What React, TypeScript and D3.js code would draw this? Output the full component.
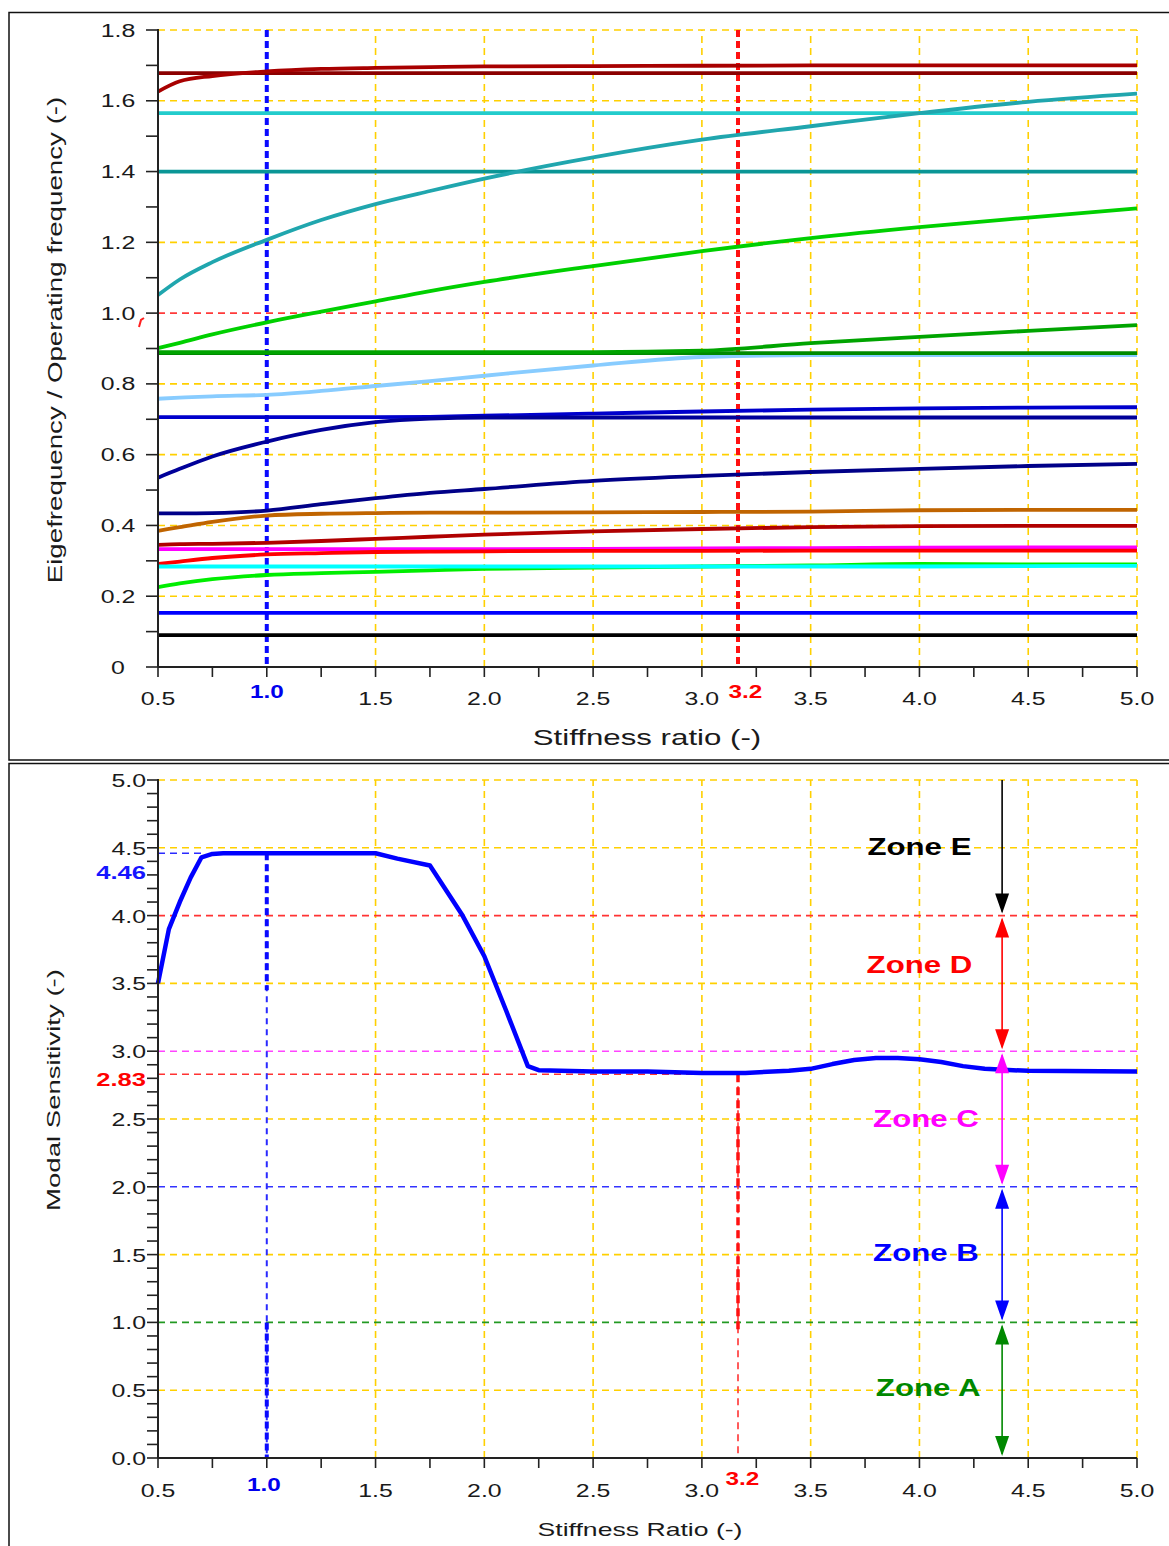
import React from 'react';
import * as d3 from 'd3';

// ---------------- Top chart data ----------------
const stiffness = [0.5, 0.6, 0.75, 1.0, 1.25, 1.5, 1.75, 2.0, 2.5, 3.0, 3.5, 4.0, 4.5, 5.0];

const darkRedRising = [1.626, 1.655, 1.670, 1.683, 1.690, 1.693, 1.695, 1.697, 1.698, 1.699, 1.700, 1.700, 1.700, 1.700];
const darkRedFlat = [1.678, 1.678, 1.678, 1.678, 1.678, 1.678, 1.678, 1.678, 1.678, 1.678, 1.678, 1.678, 1.678, 1.678];
const cyanTop = [1.565, 1.565, 1.565, 1.565, 1.565, 1.565, 1.565, 1.565, 1.565, 1.565, 1.565, 1.565, 1.565, 1.565];
const tealRising = [1.051, 1.095, 1.144, 1.207, 1.263, 1.308, 1.345, 1.380, 1.440, 1.490, 1.528, 1.565, 1.597, 1.620];
const tealFlat = [1.400, 1.400, 1.400, 1.400, 1.400, 1.400, 1.400, 1.400, 1.400, 1.400, 1.400, 1.400, 1.400, 1.400];
const greenBright = [0.901, 0.916, 0.940, 0.974, 1.004, 1.033, 1.062, 1.088, 1.133, 1.175, 1.212, 1.243, 1.270, 1.296];
const greenMid = [0.890, 0.890, 0.890, 0.890, 0.890, 0.890, 0.890, 0.890, 0.890, 0.894, 0.915, 0.933, 0.950, 0.966];
const greenDark = [0.887, 0.887, 0.887, 0.887, 0.887, 0.887, 0.887, 0.887, 0.887, 0.887, 0.887, 0.887, 0.887, 0.887];
const lightBlue = [0.758, 0.761, 0.765, 0.769, 0.780, 0.794, 0.808, 0.823, 0.852, 0.876, 0.881, 0.881, 0.881, 0.881];
const blueUpper = [0.706, 0.706, 0.706, 0.706, 0.706, 0.706, 0.707, 0.710, 0.716, 0.722, 0.727, 0.731, 0.733, 0.734];
const navyRising = [0.535, 0.560, 0.595, 0.637, 0.670, 0.692, 0.702, 0.705, 0.705, 0.705, 0.705, 0.705, 0.705, 0.705];
const navyLower = [0.434, 0.434, 0.435, 0.442, 0.460, 0.477, 0.492, 0.503, 0.526, 0.540, 0.551, 0.560, 0.568, 0.574];
const orange = [0.385, 0.395, 0.410, 0.428, 0.433, 0.435, 0.436, 0.436, 0.437, 0.438, 0.439, 0.443, 0.444, 0.444];
const darkRedLow = [0.345, 0.347, 0.348, 0.351, 0.356, 0.362, 0.368, 0.374, 0.383, 0.390, 0.395, 0.398, 0.399, 0.399];
const magenta = [0.333, 0.333, 0.333, 0.333, 0.333, 0.333, 0.333, 0.333, 0.334, 0.335, 0.336, 0.337, 0.338, 0.338];
const red = [0.291, 0.298, 0.308, 0.318, 0.322, 0.325, 0.326, 0.327, 0.328, 0.328, 0.329, 0.329, 0.329, 0.329];
const greenLow = [0.226, 0.236, 0.248, 0.260, 0.265, 0.269, 0.273, 0.277, 0.281, 0.284, 0.287, 0.291, 0.290, 0.290];
const cyanLow = [0.284, 0.284, 0.284, 0.284, 0.284, 0.284, 0.284, 0.284, 0.284, 0.284, 0.284, 0.284, 0.285, 0.286];
const blueLow = [0.153, 0.153, 0.153, 0.153, 0.153, 0.153, 0.153, 0.153, 0.153, 0.153, 0.153, 0.153, 0.153, 0.153];
const blackLow = [0.090, 0.090, 0.090, 0.090, 0.090, 0.090, 0.090, 0.090, 0.090, 0.090, 0.090, 0.090, 0.090, 0.090];

const topSeries = [
  { values: tealFlat, color: '#0a9696' },
  { values: cyanTop, color: '#22cccc' },
  { values: tealRising, color: '#20a6ae' },
  { values: darkRedFlat, color: '#8b0000' },
  { values: darkRedRising, color: '#a80000' },
  { values: lightBlue, color: '#88ccff' },
  { values: greenDark, color: '#008a00' },
  { values: greenMid, color: '#00a400' },
  { values: greenBright, color: '#00d000' },
  { values: blueUpper, color: '#0000cc' },
  { values: navyRising, color: '#000099' },
  { values: navyLower, color: '#000088' },
  { values: orange, color: '#c06400' },
  { values: darkRedLow, color: '#b00000' },
  { values: magenta, color: '#ff00ff' },
  { values: red, color: '#ff0000' },
  { values: greenLow, color: '#00ee00' },
  { values: cyanLow, color: '#00ffff' },
  { values: blueLow, color: '#0000ff' },
  { values: blackLow, color: '#000000' },
];

// ---------------- Bottom chart data ----------------
const sensX = [0.5, 0.55, 0.6, 0.65, 0.7, 0.75, 0.8, 1.0, 1.25, 1.5, 1.6, 1.75, 1.9, 2.0, 2.1, 2.2, 2.25, 2.5, 2.75, 3.0, 3.2, 3.4, 3.5, 3.6, 3.7, 3.8, 3.9, 4.0, 4.1, 4.2, 4.3, 4.5, 5.0];
const sensY = [3.5, 3.9, 4.1, 4.28, 4.43, 4.455, 4.46, 4.46, 4.46, 4.46, 4.42, 4.37, 4.0, 3.7, 3.3, 2.89, 2.86, 2.85, 2.85, 2.84, 2.84, 2.855, 2.87, 2.905, 2.935, 2.95, 2.95, 2.94, 2.92, 2.89, 2.87, 2.855, 2.85];

const zoneNames = ['Zone A', 'Zone B', 'Zone C', 'Zone D', 'Zone E'];
const zoneColors = ['#008800', '#0000ff', '#ff00ff', '#ff0000', '#000000'];
const zoneLow = [0, 1, 2, 3, 4];
const zoneHigh = [1, 2, 3, 4, 5];
const zoneLabelX = [4.04, 4.03, 4.03, 4.0, 4.0];
const zoneLabelY = [0.52, 1.52, 2.51, 3.64, 4.51];
const zoneArrowX = 4.38;

const xTickLabels = ['0.5', '1.5', '2.0', '2.5', '3.0', '3.5', '4.0', '4.5', '5.0'];
const topYTickLabels = ['0', '0.2', '0.4', '0.6', '0.8', '1.0', '1.2', '1.4', '1.6', '1.8'];
const botYTickLabels = ['0.0', '0.5', '1.0', '1.5', '2.0', '2.5', '3.0', '3.5', '4.0', '4.5', '5.0'];

const refRatio = 1.0;
const designRatio = 3.166;
const peakSens = 4.46;
const designSens = 2.83;

const FONT = "'Liberation Sans', Arial, Helvetica, sans-serif";
const YELLOW = '#ffd000';

function T({ x, y, children, size = 18, sx = 1.38, anchor = 'middle', fill = '#1a1a1a', weight = 'normal', rotate = 0 }: any) {
  const tr = `translate(${x},${y})` + (rotate ? ` rotate(${rotate})` : '') + ` scale(${sx},1)`;
  return (
    <text transform={tr} fontSize={size} textAnchor={anchor} fill={fill} fontWeight={weight} fontFamily={FONT}>
      {children}
    </text>
  );
}

function arrowHead(xp: number, yTip: number, dir: number, color: string, key: string) {
  const L = 20, W = 7;
  const yb = yTip - dir * L;
  const pts = `${xp},${yTip} ${xp - W},${yb} ${xp + W},${yb}`;
  return <polygon key={key} points={pts} fill={color} />;
}

export default function App() {
  const x = d3.scaleLinear().domain([0.5, 5]).range([158, 1137]);
  const yT = d3.scaleLinear().domain([0, 1.8]).range([667, 30]);
  const yB = d3.scaleLinear().domain([0, 5]).range([1458, 780]);

  const topLine = d3.line<number>().x((_, i) => x(stiffness[i])).y((d) => yT(d)).curve(d3.curveMonotoneX);
  const sensLine = d3.line<number>().x((_, i) => x(sensX[i])).y((d) => yB(d)).curve(d3.curveLinear);

  const xMajor = d3.range(0.5, 5.001, 0.5);
  const xMinor = d3.range(0.5, 5.001, 0.25);
  const xGrid = d3.range(1.5, 5.001, 0.5);
  const topYMinor = d3.range(0, 1.8001, 0.1);
  const topYMajor = d3.range(0, 1.8001, 0.2);
  const topYGrid = [0.2, 0.4, 0.6, 0.8, 1.2, 1.4, 1.6, 1.8];
  const botYMinor = d3.range(0, 5.0001, 0.1);
  const botYMajor = d3.range(0, 5.0001, 0.5);
  const botYGrid = [0.5, 1.5, 2.5, 3.5, 4.5, 5.0];
  const botRefLines = [
    { v: 1, c: '#229922' },
    { v: 2, c: '#3333ff' },
    { v: 3, c: '#ff44ff' },
    { v: 4, c: '#ff3333' },
  ];

  const x0 = x(0.5), x1 = x(5);

  return (
    <svg width={1169} height={1546} style={{ position: 'absolute', left: 0, top: 0, background: '#fff' }}>
      <rect x={0} y={0} width={1169} height={1546} fill="#fff" />
      <rect x={9} y={12.5} width={1175} height={747.5} fill="none" stroke="#111" strokeWidth={1.5} />
      <rect x={9} y={763.5} width={1175} height={800} fill="none" stroke="#111" strokeWidth={1.5} />

      {/* ================= TOP CHART ================= */}
      <g>
        {topYGrid.map((v) => (
          <line key={'tyg' + v} x1={x0} x2={x1} y1={yT(v)} y2={yT(v)} stroke={YELLOW} strokeWidth={1.6} strokeDasharray="7,5" />
        ))}
        <line x1={x0} x2={x1} y1={yT(1.0)} y2={yT(1.0)} stroke="#ff3a3a" strokeWidth={1.6} strokeDasharray="7,5" />
        {xGrid.map((v) => (
          <line key={'txg' + v} x1={x(v)} x2={x(v)} y1={yT(0)} y2={yT(1.8)} stroke={YELLOW} strokeWidth={1.6} strokeDasharray="7,5" />
        ))}
        <line x1={x(refRatio)} x2={x(refRatio)} y1={yT(1.8)} y2={yT(0)} stroke="#0a0aff" strokeWidth={4} strokeDasharray="7,4" />
        <line x1={x(designRatio)} x2={x(designRatio)} y1={yT(1.8)} y2={yT(0)} stroke="#ff1010" strokeWidth={4} strokeDasharray="7,4" />

        {topSeries.map((s, i) => (
          <path key={'ts' + i} d={topLine(s.values) || ''} fill="none" stroke={s.color} strokeWidth={3.8} />
        ))}

        <line x1={x0} x2={x0} y1={yT(1.8) - 1} y2={yT(0)} stroke="#222" strokeWidth={2} />
        <line x1={x0} x2={x1} y1={yT(0)} y2={yT(0)} stroke="#222" strokeWidth={2} />
        {topYMinor.map((v, i) => (
          <line key={'tym' + i} x1={x0 - 12} x2={x0} y1={yT(v)} y2={yT(v)} stroke="#222" strokeWidth={1.6} />
        ))}
        {xMinor.map((v, i) => (
          <line key={'txm' + i} x1={x(v)} x2={x(v)} y1={yT(0)} y2={yT(0) + 10} stroke="#222" strokeWidth={1.6} />
        ))}
        {topYMajor.map((v, i) => (
          <T key={'tyl' + i} x={118} y={yT(v) + 6.5} size={18} sx={1.38}>{topYTickLabels[i]}</T>
        ))}
        {xMajor.filter((v) => Math.abs(v - 1) > 1e-6).map((v, i) => (
          <T key={'txl' + i} x={x(v)} y={705} size={18}>{xTickLabels[i]}</T>
        ))}
        <T x={x(1.0)} y={698} size={18} sx={1.35} fill="#0000ee" weight="bold">1.0</T>
        <T x={x(3.2)} y={698} size={18} sx={1.35} fill="#ff0000" weight="bold">3.2</T>
        <path d="M139,327 L141,320 L144,318" fill="none" stroke="#ff2020" strokeWidth={2} />

        <T x={647} y={745} size={22} sx={1.42}>Stiffness ratio (-)</T>
        <T x={62} y={340} size={21} sx={1.32} rotate={-90}>Eigefrequency / Operating frequency (-)</T>
      </g>

      {/* ================= BOTTOM CHART ================= */}
      <g>
        {botYGrid.map((v) => (
          <line key={'byg' + v} x1={x0} x2={x1} y1={yB(v)} y2={yB(v)} stroke={YELLOW} strokeWidth={1.6} strokeDasharray="7,5" />
        ))}
        {xGrid.map((v) => (
          <line key={'bxg' + v} x1={x(v)} x2={x(v)} y1={yB(0)} y2={yB(5)} stroke={YELLOW} strokeWidth={1.6} strokeDasharray="7,5" />
        ))}
        {botRefLines.map((r) => (
          <line key={'brl' + r.v} x1={x0} x2={x1} y1={yB(r.v)} y2={yB(r.v)} stroke={r.c} strokeWidth={1.6} strokeDasharray="7,5" />
        ))}
        <line x1={x0} x2={x(0.72)} y1={yB(peakSens)} y2={yB(peakSens)} stroke="#2a2aff" strokeWidth={1.6} strokeDasharray="7,5" />
        <line x1={x0} x2={x(designRatio)} y1={yB(designSens)} y2={yB(designSens)} stroke="#ff3333" strokeWidth={1.6} strokeDasharray="7,5" />
        <line x1={x(refRatio)} x2={x(refRatio)} y1={yB(peakSens)} y2={yB(0)} stroke="#2a2aff" strokeWidth={2} strokeDasharray="6,5" />
        <line x1={x(refRatio)} x2={x(refRatio)} y1={yB(peakSens)} y2={yB(3.45)} stroke="#0a0aff" strokeWidth={4} strokeDasharray="7,4" />
        <line x1={x(refRatio)} x2={x(refRatio)} y1={yB(1.0)} y2={yB(0)} stroke="#0a0aff" strokeWidth={4} strokeDasharray="7,4" />
        <line x1={x(designRatio)} x2={x(designRatio)} y1={yB(designSens)} y2={yB(0)} stroke="#ff3333" strokeWidth={1.6} strokeDasharray="7,5" />
        <line x1={x(designRatio)} x2={x(designRatio)} y1={yB(designSens)} y2={yB(0.95)} stroke="#ff1010" strokeWidth={3.5} strokeDasharray="8,5" />

        <path d={sensLine(sensY) || ''} fill="none" stroke="#0000ff" strokeWidth={4.5} strokeLinejoin="round" />

        {zoneNames.map((z, i) => {
          const xp = x(zoneArrowX);
          const yTop = yB(zoneHigh[i]);
          const yBot = yB(zoneLow[i]);
          const isTop = i === zoneNames.length - 1;
          return (
            <g key={'zone' + i}>
              <line x1={xp} x2={xp} y1={yTop + (isTop ? 0 : 4)} y2={yBot - 4} stroke={zoneColors[i]} strokeWidth={1.6} />
              {!isTop && arrowHead(xp, yTop + 2, -1, zoneColors[i], 'u' + i)}
              {arrowHead(xp, yBot - 2, 1, zoneColors[i], 'd' + i)}
              <T x={x(zoneLabelX[i])} y={yB(zoneLabelY[i]) + 9} size={24} sx={1.3} weight="bold" fill={zoneColors[i]}>{z}</T>
            </g>
          );
        })}

        <line x1={x0} x2={x0} y1={yB(5) - 1} y2={yB(0)} stroke="#222" strokeWidth={2} />
        <line x1={x0} x2={x1} y1={yB(0)} y2={yB(0)} stroke="#222" strokeWidth={2} />
        {botYMinor.map((v, i) => (
          <line key={'bym' + i} x1={x0 - 11} x2={x0} y1={yB(v)} y2={yB(v)} stroke="#222" strokeWidth={1.6} />
        ))}
        {xMinor.map((v, i) => (
          <line key={'bxm' + i} x1={x(v)} x2={x(v)} y1={yB(0)} y2={yB(0) + 10} stroke="#222" strokeWidth={1.6} />
        ))}
        {botYMajor.map((v, i) => (
          <T key={'byl' + i} x={146} y={yB(v) + 7} size={18} anchor="end" sx={1.38}>{botYTickLabels[i]}</T>
        ))}
        <T x={146} y={yB(peakSens) + 26} size={18} anchor="end" sx={1.42} weight="bold" fill="#1515ff">4.46</T>
        <T x={146} y={yB(designSens) + 12} size={18} anchor="end" sx={1.42} weight="bold" fill="#ff0000">2.83</T>
        {xMajor.filter((v) => Math.abs(v - 1) > 1e-6).map((v, i) => (
          <T key={'bxl' + i} x={x(v)} y={1497} size={18}>{xTickLabels[i]}</T>
        ))}
        <T x={x(1.0) - 3} y={1491} size={18} sx={1.35} fill="#0000ee" weight="bold">1.0</T>
        <T x={x(3.2) - 3} y={1485} size={18} sx={1.35} fill="#ff0000" weight="bold">3.2</T>

        <T x={640} y={1536} size={19} sx={1.4}>Stiffness Ratio (-)</T>
        <T x={60} y={1090} size={19} sx={1.45} rotate={-90}>Modal Sensitivity  (-)</T>
      </g>
    </svg>
  );
}
